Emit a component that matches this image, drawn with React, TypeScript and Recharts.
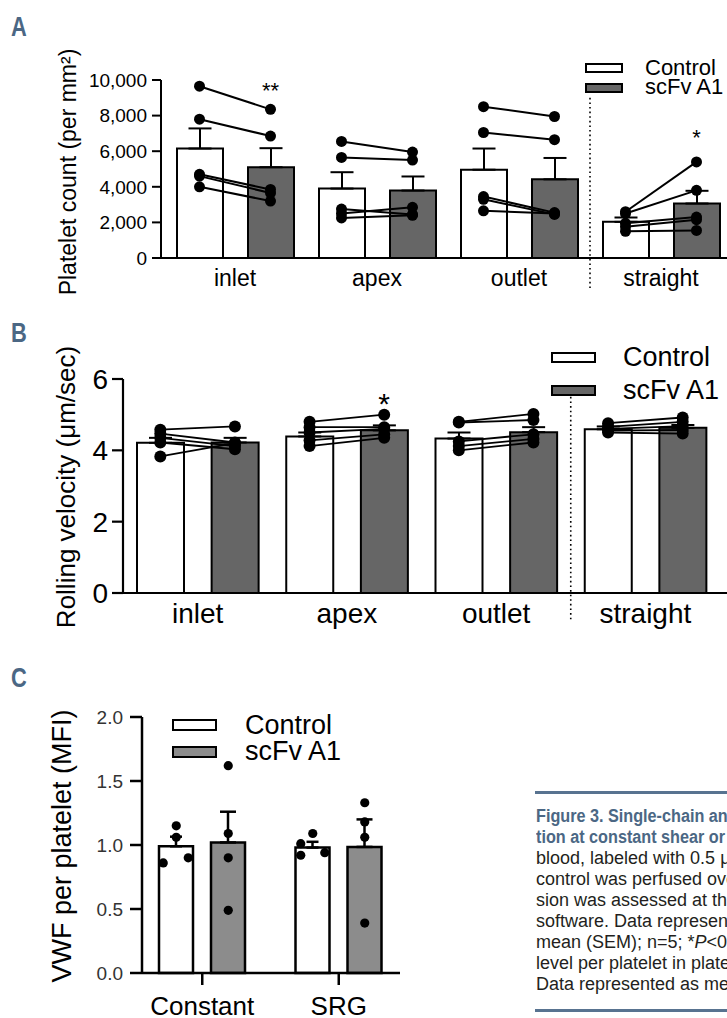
import React from 'react';
import {
  ComposedChart, Bar, Cell, Line, Scatter, XAxis, YAxis, ErrorBar,
  ReferenceLine, ReferenceDot, Legend,
} from 'recharts';

const FONT = "'Liberation Sans', Arial, Helvetica, sans-serif";
const BLUE = '#4b6784';

const legendNames = ['Control', 'scFv A1'];
const channelGroups = ['inlet', 'apex', 'outlet', 'straight'];

// A: platelet count (per mm2), paired donors
const plateletTicks = [0, 2000, 4000, 6000, 8000, 10000];
const plateletCtrlMean = [6150, 3900, 4960, 2030];
const plateletCtrlSem = [1130, 920, 1190, 245];
const plateletScfvMean = [5100, 3790, 4420, 3060];
const plateletScfvSem = [1070, 790, 1200, 715];
const plateletCtrlPoints = [
  [9650, 7800, 4700, 4600, 4000],
  [6550, 5650, 2750, 2500, 2250],
  [8500, 7050, 3450, 3300, 2650],
  [2600, 2500, 1950, 1750, 1500],
];
const plateletScfvPoints = [
  [8350, 6850, 3850, 3650, 3200],
  [5950, 5500, 2450, 2850, 2400],
  [7950, 6650, 2550, 2450, 2500],
  [5400, 3800, 2300, 2150, 1550],
];
const plateletSig = [
  { group: 'inlet', y: 9720, label: '**' },
  { group: 'straight', y: 7080, label: '*' },
];

// B: rolling velocity (um/sec)
const velocityTicks = [0, 2, 4, 6];
const velocityCtrlMean = [4.21, 4.39, 4.33, 4.59];
const velocityCtrlSem = [0.14, 0.11, 0.17, 0.08];
const velocityScfvMean = [4.22, 4.56, 4.51, 4.63];
const velocityScfvSem = [0.13, 0.14, 0.14, 0.08];
const velocityCtrlPoints = [
  [4.58, 4.47, 4.35, 4.22, 3.83],
  [4.80, 4.65, 4.50, 4.28, 4.12],
  [4.80, 4.78, 4.25, 4.12, 4.00],
  [4.76, 4.66, 4.60, 4.55, 4.50],
];
const velocityScfvPoints = [
  [4.67, 4.22, 4.12, 4.03, 4.20],
  [5.00, 4.65, 4.60, 4.45, 4.35],
  [5.02, 4.85, 4.45, 4.32, 4.22],
  [4.92, 4.80, 4.68, 4.57, 4.47],
];
const velocitySig = [{ group: 'apex', y: 5.5, label: '*' }];

// C: VWF per platelet (MFI)
const vwfGroups = ['Constant', 'SRG'];
const vwfTicks = [0, 0.5, 1, 1.5, 2];
const vwfCtrlMean = [0.99, 0.98];
const vwfCtrlSem = [0.075, 0.045];
const vwfScfvMean = [1.02, 0.985];
const vwfScfvSem = [0.24, 0.215];
const vwfCtrlPoints = [
  [1.15, 1.06, 0.86, 0.90],
  [1.09, 1.01, 0.92, 0.94],
];
const vwfScfvPoints = [
  [1.62, 1.09, 0.90, 0.49],
  [1.33, 1.18, 1.06, 0.39],
];

const captionHead = ['Figure 3. Single-chain antibody', 'tion at constant shear or'];
const captionBody = [
  'blood, labeled with 0.5 μg',
  'control was perfused over',
  'sion was assessed at the',
  'software. Data represented',
  'mean (SEM); n=5; *P<0.05',
  'level per platelet in platelet',
  'Data represented as mean',
];

function pairedRows(groups: string[], ctrlMean: number[], ctrlSem: number[], scfvMean: number[],
  scfvSem: number[], ctrlPts: number[][], scfvPts: number[][]) {
  const rows: any[] = [];
  groups.forEach((g, gi) => {
    [0, 1].forEach((arm) => {
      const row: any = {
        key: `${g}-${arm ? 's' : 'c'}`,
        group: g,
        arm,
        value: arm ? scfvMean[gi] : ctrlMean[gi],
        err: [0, arm ? scfvSem[gi] : ctrlSem[gi]],
      };
      (arm ? scfvPts : ctrlPts)[gi].forEach((v, si) => { row[`p${gi}_${si}`] = v; });
      rows.push(row);
    });
  });
  return rows;
}

const AxisTitle = ({ cx, cy, text, size }: any) => (
  <text x={cx} y={cy} transform={`rotate(-90 ${cx} ${cy})`} textAnchor="middle"
    dominantBaseline="central" fontSize={size} fontFamily={FONT} fill="#000">{text}</text>
);

const LegendBlock = ({ boxX, boxW, boxH, rowY, textX, font, fill, border }: any) => (
  <div style={{ position: 'relative', width: '100%', height: '100%' }}>
    {legendNames.map((name, i) => (
      <React.Fragment key={name}>
        <div style={{
          position: 'absolute', left: boxX, top: rowY[i] - boxH / 2, width: boxW, height: boxH,
          boxSizing: 'border-box', border: `${border}px solid #000`, background: i ? fill : '#fff',
        }} />
        <div style={{
          position: 'absolute', left: textX, top: rowY[i] - font * 0.425, fontSize: font,
          lineHeight: `${font * 0.85}px`, fontFamily: FONT, color: '#000', whiteSpace: 'nowrap',
        }}>{name}</div>
      </React.Fragment>
    ))}
  </div>
);

function PairedChart({ cfg, rows, lineKeys, ticks, fmt, sig, title }: any) {
  const axisStroke = { stroke: '#000', strokeWidth: cfg.axisW };
  return (
    <ComposedChart width={cfg.width} height={cfg.height} data={rows} margin={cfg.margin}>
      <XAxis xAxisId="bar" dataKey="key" type="category" hide orientation="top" height={0}
        padding={cfg.pad} />
      <XAxis xAxisId="grp" dataKey="group" type="category" allowDuplicatedCategory={false}
        padding={cfg.pad} height={40} axisLine={axisStroke} tickLine={false} tickSize={0}
        tickMargin={cfg.xTickMargin} interval={0}
        tick={{ fill: '#000', fontSize: cfg.xFont, fontFamily: FONT }} />
      <YAxis domain={[ticks[0], ticks[ticks.length - 1]]} ticks={ticks} tickFormatter={fmt}
        width={cfg.yWidth} axisLine={axisStroke} tickLine={axisStroke} tickSize={cfg.yTickSize}
        tickMargin={cfg.yTickMargin} interval={0}
        tick={{ fill: '#000', fontSize: cfg.yFont, fontFamily: FONT }}
        label={<AxisTitle cx={cfg.title.x} cy={cfg.title.y} size={cfg.title.size} text={title} />} />
      <ReferenceLine xAxisId="bar" position="start" ifOverflow="visible"
        segment={[{ x: 'straight-c', y: cfg.divider[0] }, { x: 'straight-c', y: cfg.divider[1] }]}
        stroke="#000" strokeWidth={1.6} strokeDasharray="1.6 3" />
      <Bar xAxisId="bar" dataKey="value" barSize={cfg.barSize} stroke="#000"
        strokeWidth={cfg.barStroke} isAnimationActive={false} legendType="none">
        {rows.map((r: any) => <Cell key={r.key} fill={r.arm ? cfg.scfvFill : '#fff'} />)}
        <ErrorBar dataKey="err" width={cfg.cap} stroke="#000" strokeWidth={cfg.barStroke} direction="y" />
      </Bar>
      {lineKeys.map((k: string) => (
        <Line key={k} xAxisId="bar" dataKey={k} stroke="#000" strokeWidth={cfg.lineW}
          dot={{ r: cfg.dotR, fill: '#000', stroke: '#000', strokeWidth: 0 }} activeDot={false}
          isAnimationActive={false} legendType="none" />
      ))}
      {sig.map((s: any) => (
        <ReferenceDot key={s.group} xAxisId="bar" x={`${s.group}-s`} y={s.y} ifOverflow="visible"
          shape={(p: any) => (
            <text x={p.cx} y={p.cy + 0.575 * cfg.sigFont} textAnchor="middle" fontSize={cfg.sigFont}
              fontFamily={FONT} fill="#000">{s.label}</text>
          )} />
      ))}
      <Legend layout="horizontal" verticalAlign="middle" align="center"
        wrapperStyle={{ left: 0, top: 0, width: cfg.width, height: cfg.height }}
        content={() => <LegendBlock {...cfg.legend} fill={cfg.scfvFill} border={2} />} />
    </ComposedChart>
  );
}

const layoutA = {
  width: 740, height: 300, margin: { top: 80, right: 8, bottom: 2, left: 0 },
  yWidth: 161, pad: { left: 3, right: 0 }, barSize: 46, scfvFill: '#666666',
  axisW: 2, barStroke: 2, cap: 11.5, dotR: 5.5, lineW: 2,
  yFont: 19, yTickSize: 9, yTickMargin: 5, xFont: 23, xTickMargin: 12,
  title: { x: 68, y: 172, size: 23 }, divider: [9000, -1800], sigFont: 22,
  legend: { boxX: 585, boxW: 38, boxH: 10, rowY: [68, 87.5], textX: 645, font: 22 },
};

const layoutB = {
  width: 740, height: 340, margin: { top: 79, right: 13, bottom: 7, left: 0 },
  yWidth: 123, pad: { left: 0, right: 7 }, barSize: 47, scfvFill: '#666666',
  axisW: 2.2, barStroke: 2, cap: 11.5, dotR: 6, lineW: 1.8,
  yFont: 28, yTickSize: 11, yTickMargin: 4, xFont: 28, xTickMargin: 10,
  title: { x: 66, y: 187, size: 26 }, divider: [5.5, -0.8], sigFont: 30,
  legend: { boxX: 551, boxW: 45, boxH: 11, rowY: [57.5, 90.5], textX: 623, font: 27 },
};

// horizontal jitter of control dots in panel C (px)
const CTRL_JITTER = [[0, 0, -13, 12], [0, -12, -12, 12]];

function VwfChart() {
  const rows = vwfGroups.map((g, gi) => {
    const row: any = {
      group: g,
      ctrl: vwfCtrlMean[gi], ctrlErr: [0, vwfCtrlSem[gi]],
      scfv: vwfScfvMean[gi], scfvErr: [0, vwfScfvSem[gi]],
    };
    vwfCtrlPoints[gi].forEach((v, j) => { row[`c${j}`] = v; });
    vwfScfvPoints[gi].forEach((v, j) => { row[`s${j}`] = v; });
    return row;
  });
  const half = (34 + 18) / 2;
  const axisStroke = { stroke: '#000', strokeWidth: 2.5 };
  return (
    <ComposedChart width={420} height={378} data={rows} barGap={18}
      margin={{ top: 77, right: 20, bottom: 0, left: 0 }}>
      <XAxis dataKey="group" type="category" padding={{ left: -8, right: -7 }} height={45}
        axisLine={axisStroke} tickLine={axisStroke} tickSize={12} tickMargin={12}
        tick={{ fill: '#000', fontSize: 26, fontFamily: FONT }} interval={0} />
      <YAxis domain={[0, 2]} ticks={vwfTicks} tickFormatter={(v: number) => v.toFixed(1)} width={142}
        axisLine={axisStroke} tickLine={axisStroke} tickSize={12} tickMargin={7} interval={0}
        tick={{ fill: '#333', fontSize: 19, fontFamily: FONT }}
        label={<AxisTitle cx={62} cy={206} size={27} text="VWF per platelet (MFI)" />} />
      <Bar dataKey="ctrl" barSize={34} fill="#fff" stroke="#000" strokeWidth={2.5}
        isAnimationActive={false} legendType="none">
        <ErrorBar dataKey="ctrlErr" width={6} stroke="#000" strokeWidth={2.5} direction="y" />
      </Bar>
      <Bar dataKey="scfv" barSize={34} fill="#8c8c8c" stroke="#000" strokeWidth={2.5}
        isAnimationActive={false} legendType="none">
        <ErrorBar dataKey="scfvErr" width={8} stroke="#000" strokeWidth={2.5} direction="y" />
      </Bar>
      {vwfCtrlPoints[0].map((_, j) => (
        <Scatter key={`c${j}`} dataKey={`c${j}`} isAnimationActive={false} legendType="none"
          shape={(p: any) => (
            <circle cx={p.cx - half + CTRL_JITTER[vwfGroups.indexOf(p.payload.group)][j]} cy={p.cy}
              r={4.6} fill="#000" />
          )} />
      ))}
      {vwfScfvPoints[0].map((_, j) => (
        <Scatter key={`s${j}`} dataKey={`s${j}`} isAnimationActive={false} legendType="none"
          shape={(p: any) => <circle cx={p.cx + half} cy={p.cy} r={4.6} fill="#000" />} />
      ))}
      <Legend layout="horizontal" verticalAlign="middle" align="center"
        wrapperStyle={{ left: 0, top: 0, width: 420, height: 378 }}
        content={() => (
          <LegendBlock boxX={172} boxW={45} boxH={12} rowY={[85, 111.5]} textX={245} font={27}
            fill="#8c8c8c" border={2.5} />
        )} />
    </ComposedChart>
  );
}

const PanelLetter = ({ letter, top }: any) => (
  <div style={{
    position: 'absolute', left: 11, top, fontSize: 28, lineHeight: '28px', fontWeight: 700,
    fontFamily: FONT, color: BLUE, transform: 'scaleX(0.78)', transformOrigin: 'left top',
  }}>{letter}</div>
);

const captionLine = (text: string) => {
  const parts = text.split(/(P(?=<))/);
  return parts.map((t, i) => (t === 'P' ? <i key={i}>P</i> : <span key={i}>{t}</span>));
};

export default function App() {
  const rowsA = pairedRows(channelGroups, plateletCtrlMean, plateletCtrlSem, plateletScfvMean,
    plateletScfvSem, plateletCtrlPoints, plateletScfvPoints);
  const keysA = channelGroups.flatMap((_, gi) => plateletCtrlPoints[gi].map((__, si) => `p${gi}_${si}`));
  const rowsB = pairedRows(channelGroups, velocityCtrlMean, velocityCtrlSem, velocityScfvMean,
    velocityScfvSem, velocityCtrlPoints, velocityScfvPoints);
  const keysB = channelGroups.flatMap((_, gi) => velocityCtrlPoints[gi].map((__, si) => `p${gi}_${si}`));

  return (
    <div style={{
      position: 'absolute', left: 0, top: 0, width: 727, height: 1018, overflow: 'hidden',
      background: '#fff', fontFamily: FONT,
    }}>
      <PanelLetter letter="A" top={13} />
      <PanelLetter letter="B" top={319} />
      <PanelLetter letter="C" top={664} />

      <div style={{ position: 'absolute', left: 0, top: 0 }}>
        <PairedChart cfg={layoutA} rows={rowsA} lineKeys={keysA} ticks={plateletTicks}
          fmt={(v: number) => v.toLocaleString('en-US')} sig={plateletSig}
          title="Platelet count (per mm²)" />
      </div>
      <div style={{ position: 'absolute', left: 0, top: 300 }}>
        <PairedChart cfg={layoutB} rows={rowsB} lineKeys={keysB} ticks={velocityTicks}
          fmt={(v: number) => String(v)} sig={velocitySig}
          title="Rolling velocity (μm/sec)" />
      </div>
      <div style={{ position: 'absolute', left: 0, top: 640 }}>
        <VwfChart />
      </div>

      <div style={{ position: 'absolute', left: 535, top: 791, width: 200, height: 3, background: '#587390' }} />
      <div style={{ position: 'absolute', left: 536, top: 806, width: 220 }}>
        {captionHead.map((t) => (
          <div key={t} style={{
            fontSize: 18, lineHeight: '21px', height: 21, fontWeight: 700, color: BLUE,
            whiteSpace: 'nowrap', transform: 'scaleX(0.9)', transformOrigin: 'left top',
          }}>{t}</div>
        ))}
        {captionBody.map((t) => (
          <div key={t} style={{ fontSize: 18, lineHeight: '21px', color: '#231f20', whiteSpace: 'nowrap' }}>
            {captionLine(t)}
          </div>
        ))}
      </div>
      <div style={{ position: 'absolute', left: 535, top: 1009, width: 200, height: 3, background: '#587390' }} />
    </div>
  );
}
